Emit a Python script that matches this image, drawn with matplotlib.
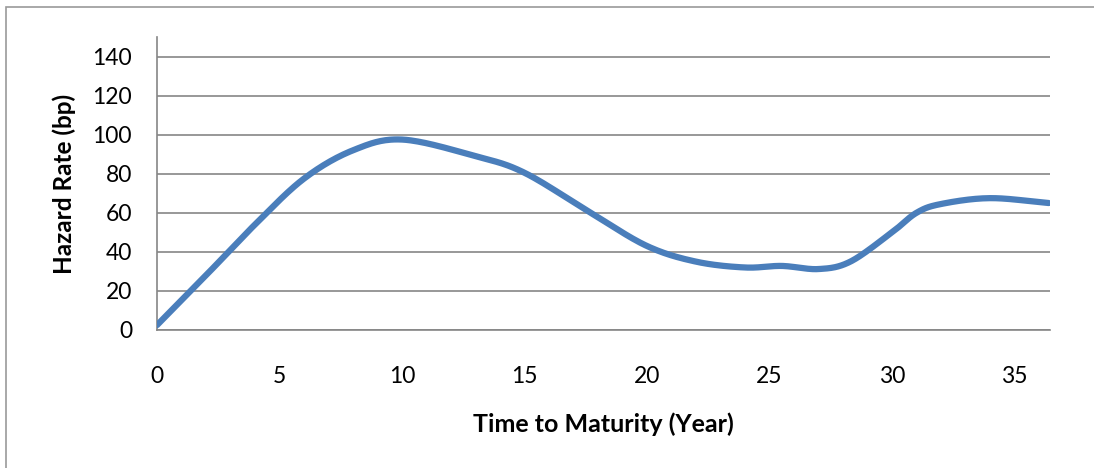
import numpy as np
import matplotlib
matplotlib.use("Agg")
import matplotlib.pyplot as plt
from matplotlib.patches import Rectangle

# Data (maturity in years, hazard rate in bp)
maturity = [0, 2, 4, 6, 8, 10, 13, 15, 17.7, 20, 22, 24, 25.5, 27, 28.3, 30, 31, 32, 34, 36.4]
hazard = [2.5, 28, 54, 77.5, 92, 97.5, 89, 80.5, 60, 43, 35, 32, 32.8, 31.2, 35, 50, 60, 64.5, 67.5, 65]
x_ticks = [0, 5, 10, 15, 20, 25, 30, 35]
y_ticks = [0, 20, 40, 60, 80, 100, 120, 140]


def smooth(xs, ys, n=30):
    """Catmull-Rom style smoothing like Excel's smoothed line."""
    xs = np.asarray(xs, float)
    ys = np.asarray(ys, float)
    P = np.column_stack([xs, ys])
    P = np.vstack([P[0] - (P[1] - P[0]), P, P[-1] + (P[-1] - P[-2])])
    out = []
    for i in range(1, len(P) - 2):
        p0, p1, p2, p3 = P[i - 1], P[i], P[i + 1], P[i + 2]
        b1 = p1 + (p2 - p0) / 6.0
        b2 = p2 - (p3 - p1) / 6.0
        t = np.linspace(0, 1, n, endpoint=(i == len(P) - 3))[:, None]
        seg = ((1 - t) ** 3) * p1 + 3 * ((1 - t) ** 2) * t * b1 + 3 * (1 - t) * t ** 2 * b2 + t ** 3 * p2
        out.append(seg)
    out = np.vstack(out)
    return out[:, 0], out[:, 1]


plt.rcParams['font.family'] = ['Lato', 'DejaVu Sans']

fig = plt.figure(figsize=(10.94, 4.68), dpi=100)
fig.patches.append(Rectangle((6 / 1094, -0.1), 1.2, (468 - 7) / 468 + 0.1,
                             transform=fig.transFigure, fill=False,
                             edgecolor='#9a9a9a', linewidth=1.2))

ax = fig.add_axes([157 / 1094, (468 - 330) / 468, 893 / 1094, 293 / 468])
sx, sy = smooth(maturity, hazard)
ax.plot(sx, sy, color='#4a7ebb', linewidth=4.5, solid_capstyle='round', zorder=3)

ax.set_xlim(0, 36.45)
ax.set_ylim(0, 150)
ax.set_xticks(x_ticks)
ax.set_yticks(y_ticks)
ax.tick_params(axis='both', length=0, labelsize=16.5, colors='black')
ax.tick_params(axis='x', pad=26)
ax.tick_params(axis='y', pad=18)
ax.yaxis.grid(True, color='#868686', linewidth=1.2)
ax.set_axisbelow(True)
for s in ['top', 'right']:
    ax.spines[s].set_visible(False)
for s in ['left', 'bottom']:
    ax.spines[s].set_color('#868686')
    ax.spines[s].set_linewidth(1.2)

ax.set_xlabel('Time to Maturity (Year)', fontsize=18, fontweight='bold', labelpad=18)
ax.set_ylabel('Hazard Rate (bp)', fontsize=17.5, fontweight='bold', labelpad=12)

fig.savefig('out.png', dpi=100)
